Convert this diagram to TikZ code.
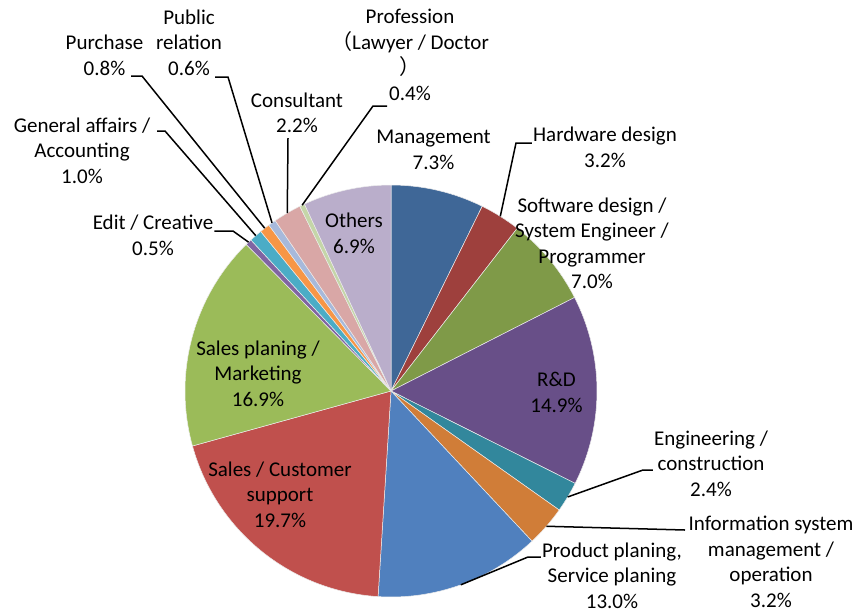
\documentclass[tikz,border=0pt]{standalone}
\usepackage{fontspec}
\setmainfont{Carlito}
\newfontfamily\cjk{Noto Sans CJK SC}
\definecolor{cMgmt}{RGB}{63,103,151}
\definecolor{cHw}{RGB}{158,64,61}
\definecolor{cSw}{RGB}{127,154,72}
\definecolor{cRd}{RGB}{104,79,136}
\definecolor{cEng}{RGB}{50,135,156}
\definecolor{cInfo}{RGB}{208,125,56}
\definecolor{cProd}{RGB}{80,128,190}
\definecolor{cSales}{RGB}{192,80,77}
\definecolor{cMkt}{RGB}{155,187,89}
\definecolor{cEdit}{RGB}{128,100,162}
\definecolor{cGa}{RGB}{75,172,198}
\definecolor{cPur}{RGB}{247,150,70}
\definecolor{cPub}{RGB}{167,185,219}
\definecolor{cCons}{RGB}{217,167,166}
\definecolor{cProf}{RGB}{197,214,168}
\definecolor{cOth}{RGB}{186,174,203}
\tikzset{
  lbl/.style={font=\fontsize{21}{25.5}\selectfont, align=center, inner sep=1pt},
  leader/.style={black, line width=1.5pt},
}
\begin{document}
\begin{tikzpicture}[x=1pt,y=1pt]
\useasboundingbox (0,0) rectangle (858,-614);
% pie, clockwise from 12 o'clock
\begin{scope}[shift={(391,-391)}]
\def\startang{90}
\foreach \pct/\col/\nm in {7.3/cMgmt/mgmt, 3.2/cHw/hw, 7.0/cSw/sw, 14.9/cRd/rd,
    2.4/cEng/eng, 3.2/cInfo/info, 13.0/cProd/prod, 19.7/cSales/sales,
    16.9/cMkt/mkt, 0.5/cEdit/edit, 1.0/cGa/ga, 0.8/cPur/pur, 0.6/cPub/pub,
    2.2/cCons/cons, 0.4/cProf/prof, 6.9/cOth/oth} {
  \pgfmathsetmacro{\endang}{\startang-3.6*\pct}
  \pgfmathsetmacro{\midang}{(\startang+\endang)/2}
  \fill[\col, draw=white!85!gray, line width=0.5pt] (0,0) -- (\startang:206)
    arc[start angle=\startang, end angle=\endang, radius=206] -- cycle;
  \coordinate (p-\nm) at (\midang:206);
  \xdef\startang{\endang}
}
\end{scope}

% labels
\node[lbl] (mgmt) at (433.5,-150) {Management\\7.3\%};
\node[lbl] (hw) at (605,-147.5) {Hardware design\\3.2\%};
\node[lbl] (sw) at (592,-243.5) {Software design /\\System Engineer /\\Programmer\\7.0\%};
\node[lbl] (rd) at (556.5,-392.5) {R\&D\\14.9\%};
\node[lbl] (eng) at (711,-463.5) {Engineering /\\construction\\2.4\%};
\node[lbl] (info) at (771,-562) {Information system\\management /\\operation\\3.2\%};
\node[lbl] (prod) at (612,-575.5) {Product planing,\\Service planing\\13.0\%};
\node[lbl] (sales) at (280,-494.5) {Sales / Customer\\support\\19.7\%};
\node[lbl] (mkt) at (258,-373.5) {Sales planing /\\Marketing\\16.9\%};
\node[lbl] (edit) at (153,-235.5) {Edit / Creative\\0.5\%};
\node[lbl] (ga) at (82,-150.5) {General affairs /\\Accounting\\1.0\%};
\node[lbl] (pur) at (104.5,-55.5) {Purchase\\0.8\%};
\node[lbl] (pub) at (189,-42.5) {Public\\relation\\0.6\%};
\node[lbl] (cons) at (297,-113) {Consultant\\2.2\%};
\node[lbl] (prof) at (410,-55) {Profession\\{\cjk （}Lawyer / Doctor\\{\cjk ）}\\0.4\%};
\node[lbl] (oth) at (354,-233.5) {Others\\6.9\%};

% leader lines
\coordinate (e-hw) at (516,-143);
\coordinate (e-eng) at (643,-470);
\coordinate (e-info) at (685,-530);
\coordinate (e-prod) at (528,-557);
\coordinate (e-edit) at (233,-231);
\coordinate (e-ga) at (165,-131);
\coordinate (e-pur) at (142,-76);
\coordinate (e-pub) at (228,-77);
\coordinate (e-cons) at (288,-138);
\coordinate (e-prof) at (373,-106);
\draw[leader] (p-hw) -- (e-hw) -- (e-hw -| hw.west);
\draw[leader] (p-eng) -- (e-eng) -- (e-eng -| eng.west);
\draw[leader] (p-info) -- (e-info);
\draw[leader] (p-prod) -- (e-prod) -- (e-prod -| prod.west);
\draw[leader] (p-edit) -- (e-edit) -- (e-edit -| edit.east);
\draw[leader] (p-ga) -- (e-ga) -- ++(-8,0);
\draw[leader] (p-pur) -- (e-pur) -- ++(-11,0);
\draw[leader] (p-pub) -- (e-pub) -- ++(-13,0);
\draw[leader] (p-cons) -- (e-cons);
\draw[leader] (p-prof) -- (e-prof) -- ++(14,0);
\end{tikzpicture}
\end{document}
